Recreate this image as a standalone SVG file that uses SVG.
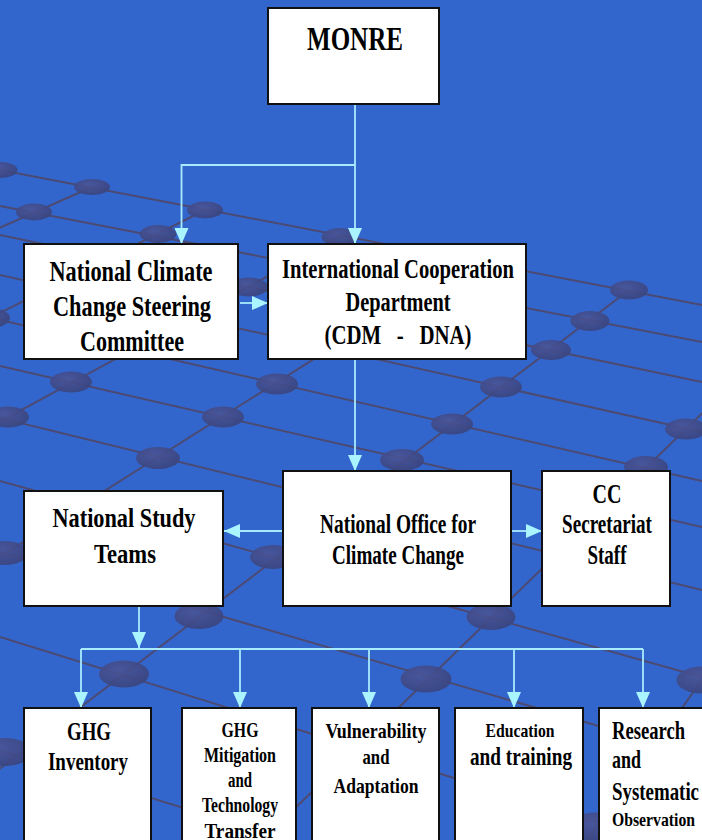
<svg xmlns="http://www.w3.org/2000/svg" width="702" height="840" viewBox="0 0 702 840">
<style>
.grid line{stroke:#4c4a72;stroke-width:2}
.dot{fill:url(#dotg);fill-opacity:0.9}
.box{fill:#fff;stroke:#111;stroke-width:2}
.t{font-family:"Liberation Serif","Times New Roman",serif;font-weight:bold;fill:#000;text-anchor:middle;white-space:pre}
.l{text-anchor:start}
.c{fill:none;stroke:#a8ecff;stroke-width:1.8}
.ca{fill:none;stroke:#a8ecff;stroke-width:1.8;marker-end:url(#arr)}
</style>
<defs>
<radialGradient id="dotg" cx="0.4" cy="0.35" r="0.7">
<stop offset="0" stop-color="#4a5496"/>
<stop offset="1" stop-color="#3a437c"/>
</radialGradient>
<marker id="arr" viewBox="0 0 16 14" markerWidth="16" markerHeight="14" refX="16" refY="7" orient="auto" markerUnits="userSpaceOnUse">
<path d="M0,0 L16,7 L0,14 z" fill="#aaf4ff"/>
</marker>
</defs>
<rect x="0" y="0" width="702" height="840" fill="#3366cc"/>
<g id="background" class="grid">
<line x1="0" y1="170" x2="702" y2="305"/>
<line x1="0" y1="206" x2="702" y2="342"/>
<line x1="0" y1="235" x2="702" y2="382"/>
<line x1="0" y1="275" x2="702" y2="432"/>
<line x1="0" y1="320" x2="702" y2="481"/>
<line x1="0" y1="366" x2="702" y2="527"/>
<line x1="0" y1="418" x2="702" y2="590"/>
<line x1="0" y1="481" x2="702" y2="677"/>
<line x1="0" y1="552" x2="702" y2="756"/>
<line x1="0" y1="637" x2="702" y2="855"/>
<line x1="0" y1="751" x2="702" y2="969"/>
<line x1="92" y1="187" x2="-10" y2="232"/>
<line x1="205" y1="210" x2="-20" y2="323"/>
<line x1="340" y1="237" x2="-10" y2="427"/>
<line x1="471" y1="260" x2="-10" y2="563"/>
<line x1="629" y1="290" x2="-10" y2="776"/>
<line x1="720" y1="396" x2="255" y2="847"/>
<line x1="740" y1="627" x2="560" y2="878"/>
<ellipse class="dot" cx="0" cy="170" rx="17.5" ry="8"/>
<ellipse class="dot" cx="92" cy="187" rx="18" ry="8"/>
<ellipse class="dot" cx="34" cy="212" rx="18" ry="8.5"/>
<ellipse class="dot" cx="205" cy="210" rx="18" ry="8.5"/>
<ellipse class="dot" cx="158" cy="234" rx="18.5" ry="9"/>
<ellipse class="dot" cx="340" cy="237" rx="18.5" ry="9"/>
<ellipse class="dot" cx="249" cy="287" rx="19" ry="9.5"/>
<ellipse class="dot" cx="629" cy="290" rx="19" ry="9.5"/>
<ellipse class="dot" cx="590" cy="321" rx="19.5" ry="10"/>
<ellipse class="dot" cx="551" cy="350" rx="20" ry="10"/>
<ellipse class="dot" cx="-10" cy="318" rx="20" ry="10"/>
<ellipse class="dot" cx="71" cy="382" rx="21" ry="10.5"/>
<ellipse class="dot" cx="8" cy="417" rx="21" ry="10.5"/>
<ellipse class="dot" cx="277" cy="384" rx="21" ry="10.5"/>
<ellipse class="dot" cx="223" cy="417" rx="21" ry="10.5"/>
<ellipse class="dot" cx="158" cy="458" rx="22" ry="11"/>
<ellipse class="dot" cx="501" cy="387" rx="21" ry="10.5"/>
<ellipse class="dot" cx="452" cy="424" rx="21" ry="10.5"/>
<ellipse class="dot" cx="402" cy="460" rx="22" ry="11"/>
<ellipse class="dot" cx="686" cy="429" rx="21" ry="10.5"/>
<ellipse class="dot" cx="646" cy="467" rx="22" ry="11"/>
<ellipse class="dot" cx="5" cy="553" rx="23" ry="12"/>
<ellipse class="dot" cx="273" cy="557" rx="23" ry="12"/>
<ellipse class="dot" cx="199" cy="616" rx="24.5" ry="13"/>
<ellipse class="dot" cx="124" cy="674" rx="25" ry="13.5"/>
<ellipse class="dot" cx="491" cy="617" rx="24.5" ry="13"/>
<ellipse class="dot" cx="426" cy="679" rx="25.5" ry="13.5"/>
<ellipse class="dot" cx="5" cy="752" rx="26" ry="14"/>
<ellipse class="dot" cx="702" cy="680" rx="25.5" ry="13.5"/>
<ellipse class="dot" cx="596" cy="827" rx="27" ry="14.5"/>
</g>
<g id="connectors">
<path class="ca" d="M355,104 V244"/>
<path class="ca" d="M355,165 H181.5 V244"/>
<path class="ca" d="M240,303 H268"/>
<path class="ca" d="M355,360 V471"/>
<path class="ca" d="M283,531 H224"/>
<path class="ca" d="M512,531 H542"/>
<path class="ca" d="M139,607 V648"/>
<path class="c" d="M81,649 H643"/>
<path class="ca" d="M81,649 V708"/>
<path class="ca" d="M240,649 V708"/>
<path class="ca" d="M369,649 V708"/>
<path class="ca" d="M514,649 V708"/>
<path class="ca" d="M643,649 V708"/>
</g>
<g id="monre">
<rect class="box" x="268" y="8" width="171" height="96"/>
<text class="t" x="355" y="50" font-size="34" textLength="96" lengthAdjust="spacingAndGlyphs">MONRE</text>
</g>
<g id="steering-committee">
<rect class="box" x="24" y="244" width="214" height="115"/>
<text class="t" x="131" y="281" font-size="29" textLength="163" lengthAdjust="spacingAndGlyphs">National Climate</text>
<text class="t" x="132" y="316" font-size="29" textLength="158" lengthAdjust="spacingAndGlyphs">Change Steering</text>
<text class="t" x="132" y="351" font-size="29" textLength="104" lengthAdjust="spacingAndGlyphs">Committee</text>
</g>
<g id="icd">
<rect class="box" x="268" y="244" width="258" height="115"/>
<text class="t" x="398" y="278" font-size="28" textLength="232" lengthAdjust="spacingAndGlyphs">International Cooperation</text>
<text class="t" x="398" y="311" font-size="28" textLength="105" lengthAdjust="spacingAndGlyphs">Department</text>
<text class="t" x="398" y="344" font-size="28" textLength="147" lengthAdjust="spacingAndGlyphs">(CDM   -   DNA)</text>
</g>
<g id="study-teams">
<rect class="box" x="24" y="491" width="199" height="115"/>
<text class="t" x="124" y="527" font-size="28" textLength="143" lengthAdjust="spacingAndGlyphs">National Study</text>
<text class="t" x="125" y="563" font-size="28" textLength="62" lengthAdjust="spacingAndGlyphs">Teams</text>
</g>
<g id="nocc">
<rect class="box" x="283" y="471" width="228" height="135"/>
<text class="t" x="398" y="533" font-size="27" textLength="156" lengthAdjust="spacingAndGlyphs">National Office for</text>
<text class="t" x="398" y="564" font-size="27" textLength="132" lengthAdjust="spacingAndGlyphs">Climate Change</text>
</g>
<g id="cc-secretariat">
<rect class="box" x="542" y="471" width="128" height="135"/>
<text class="t" x="607" y="503" font-size="27" textLength="29" lengthAdjust="spacingAndGlyphs">CC</text>
<text class="t" x="607" y="533" font-size="27" textLength="90" lengthAdjust="spacingAndGlyphs">Secretariat</text>
<text class="t" x="607" y="564" font-size="27" textLength="39" lengthAdjust="spacingAndGlyphs">Staff</text>
</g>
<g id="ghg-inventory">
<rect class="box" x="24" y="708" width="127" height="150"/>
<text class="t" x="89" y="740" font-size="26" textLength="44" lengthAdjust="spacingAndGlyphs">GHG</text>
<text class="t" x="88" y="770" font-size="26" textLength="80" lengthAdjust="spacingAndGlyphs">Inventory</text>
</g>
<g id="ghg-mitigation">
<rect class="box" x="182" y="708" width="114" height="150"/>
<text class="t" x="240" y="737" font-size="20" textLength="37" lengthAdjust="spacingAndGlyphs">GHG</text>
<text class="t" x="240" y="762" font-size="20" textLength="72" lengthAdjust="spacingAndGlyphs">Mitigation</text>
<text class="t" x="240" y="787" font-size="20" textLength="24" lengthAdjust="spacingAndGlyphs">and</text>
<text class="t" x="240" y="812" font-size="20" textLength="76" lengthAdjust="spacingAndGlyphs">Technology</text>
<text class="t" x="240" y="838" font-size="20" textLength="71" lengthAdjust="spacingAndGlyphs">Transfer</text>
</g>
<g id="vulnerability">
<rect class="box" x="312" y="708" width="127" height="150"/>
<text class="t" x="376" y="738" font-size="22" textLength="101" lengthAdjust="spacingAndGlyphs">Vulnerability</text>
<text class="t" x="376" y="764" font-size="22" textLength="27" lengthAdjust="spacingAndGlyphs">and</text>
<text class="t" x="376" y="793" font-size="22" textLength="85" lengthAdjust="spacingAndGlyphs">Adaptation</text>
</g>
<g id="education">
<rect class="box" x="455" y="708" width="128" height="150"/>
<text class="t" x="520" y="737" font-size="19" textLength="69" lengthAdjust="spacingAndGlyphs">Education</text>
<text class="t" x="521" y="765" font-size="26" textLength="102" lengthAdjust="spacingAndGlyphs">and training</text>
</g>
<g id="research">
<rect class="box" x="599" y="708" width="120" height="150"/>
<text class="t l" x="612" y="739" font-size="25" textLength="73" lengthAdjust="spacingAndGlyphs">Research</text>
<text class="t l" x="612" y="768" font-size="25" textLength="29" lengthAdjust="spacingAndGlyphs">and</text>
<text class="t l" x="612" y="800" font-size="25" textLength="87" lengthAdjust="spacingAndGlyphs">Systematic</text>
<text class="t l" x="612" y="826" font-size="19" textLength="83" lengthAdjust="spacingAndGlyphs">Observation</text>
</g>
</svg>
